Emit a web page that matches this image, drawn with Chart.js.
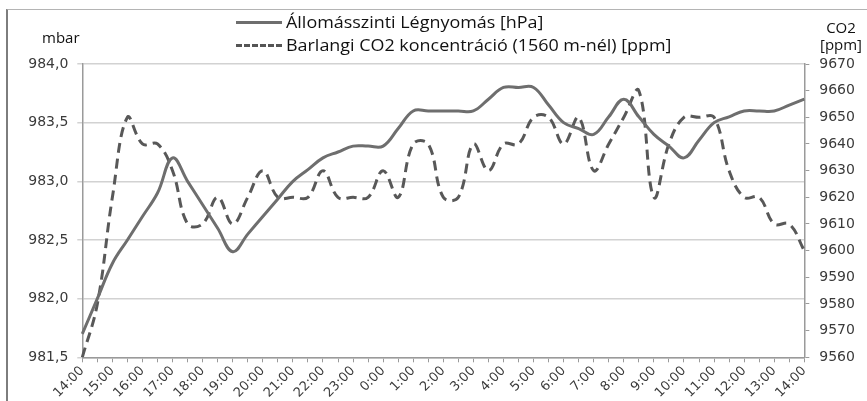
<html><head><title>Légnyomás és CO2</title>
<style>
    body {
        margin: 0;
        background: #fff;
        font-family: "DejaVu Sans", sans-serif;
    }
    .wrap {
        position: relative;
        width: 867px;
        height: 401px;
        overflow: hidden;
    }
    .frame {
        position: absolute;
        left: 6px;
        top: 9px;
        width: 900px;
        height: 450px;
        border-left: 2.5px solid #7d7d7d;
        border-top: 1.5px solid #b4b4b4;
    }
    .label {
        position: absolute;
        color: #111;
        font-family: "Open Sans", sans-serif;
        font-size: 15px;
        line-height: 17px;
        white-space: nowrap;
    }
    .legend-row {
        position: absolute;
        left: 236px;
        height: 20px;
        display: flex;
        align-items: center;
        font-family: "Open Sans", sans-serif;
        font-size: 16px;
        color: #111;
        white-space: nowrap;
    }
    .legend-row span {
        display: inline-block;
        transform: scaleX(1.12);
        transform-origin: left center;
    }
    .sample {
        width: 46px;
        margin-right: 4px;
        border-top: 3px solid #6e6e6e;
    }
    .sample.dashed {
        border-top: 3px dashed #555;
    }
    #chart {
        position: absolute;
        left: 0;
        top: 0;
    }
</style>
<script src="https://cdn.jsdelivr.net/npm/chart.js"></script>
</head>
<body>
<div class="wrap">
    <div class="frame"></div>
    <canvas id="chart" width="867" height="401"></canvas>
    <div class="label" style="left:42px; top:29px;">mbar</div>
    <div class="label" style="left:818px; top:19px; width:46px; text-align:center;">CO2<br>[ppm]</div>
    <div class="legend-row" style="top:12px;"><div class="sample"></div><span>Állomásszinti Légnyomás [hPa]</span></div>
    <div class="legend-row" style="top:35px;"><div class="sample dashed"></div><span>Barlangi CO2 koncentráció (1560 m-nél) [ppm]</span></div>
</div>

<script>
// hourly tick labels, one data point every half hour
const hours = ['14:00', '15:00', '16:00', '17:00', '18:00', '19:00', '20:00', '21:00', '22:00',
    '23:00', '0:00', '1:00', '2:00', '3:00', '4:00', '5:00', '6:00', '7:00', '8:00', '9:00',
    '10:00', '11:00', '12:00', '13:00', '14:00'];

// Állomásszinti légnyomás (mbar / hPa)
const pressure = [
    981.7, 982.0, 982.3, 982.5, 982.7, 982.9, 983.2, 983.0, 982.8, 982.6,
    982.4, 982.55, 982.7, 982.85, 983.0, 983.1, 983.2, 983.25, 983.3, 983.3,
    983.3, 983.45, 983.6, 983.6, 983.6, 983.6, 983.6, 983.7, 983.8, 983.8,
    983.8, 983.65, 983.5, 983.45, 983.4, 983.55, 983.7, 983.55, 983.4, 983.3,
    983.2, 983.35, 983.5, 983.55, 983.6, 983.6, 983.6, 983.65, 983.7
];

// Barlangi CO2 koncentráció (ppm)
const co2 = [
    9560, 9580, 9620, 9650, 9640, 9640, 9630, 9610, 9610, 9620,
    9610, 9620, 9630, 9620, 9620, 9620, 9630, 9620, 9620, 9620,
    9630, 9620, 9640, 9640, 9620, 9620, 9640, 9630, 9640, 9640,
    9650, 9650, 9640, 9650, 9630, 9640, 9650, 9660, 9620, 9640,
    9650, 9650, 9650, 9630, 9620, 9620, 9610, 9610, 9600
];

// half-hour slots get an empty label
const categories = [];
hours.forEach((h, i) => {
    categories.push(h);
    if (i < hours.length - 1) categories.push('');
});

const tickFont = { family: 'DejaVu Sans', size: 14 };
const axisColor = '#9a9a9a';

new Chart(document.getElementById('chart'), {
    type: 'line',
    data: {
        labels: categories,
        datasets: [{
            label: 'Állomásszinti Légnyomás [hPa]',
            data: pressure,
            yAxisID: 'y',
            borderColor: '#6e6e6e',
            borderWidth: 3,
            pointRadius: 0,
            tension: 0.4,
            fill: false
        }, {
            label: 'Barlangi CO2 koncentráció (1560 m-nél) [ppm]',
            data: co2,
            yAxisID: 'y2',
            borderColor: '#585858',
            borderWidth: 3,
            borderDash: [10, 6],
            pointRadius: 0,
            tension: 0.4,
            fill: false
        }]
    },
    options: {
        responsive: false,
        animation: false,
        layout: { padding: { top: 64, left: 0, right: 0, bottom: 0 } },
        plugins: {
            legend: { display: false },
            tooltip: { enabled: false }
        },
        scales: {
            x: {
                grid: { drawOnChartArea: false, color: axisColor, tickLength: 5, lineWidth: 1 },
                border: { color: axisColor, width: 1.5 },
                ticks: {
                    autoSkip: false,
                    maxRotation: 45,
                    minRotation: 45,
                    font: { family: 'DejaVu Sans', size: 13 },
                    color: '#3a3a3a',
                    padding: 1
                },
                afterFit: s => { s.height = 43.7; }
            },
            y: {
                position: 'left',
                min: 981.5,
                max: 984,
                grid: { color: '#d2d2d2', lineWidth: 1.5, tickLength: 5 },
                border: { color: axisColor, width: 1.5 },
                ticks: {
                    stepSize: 0.5,
                    font: tickFont,
                    color: '#3a3a3a',
                    padding: 9,
                    callback: v => v.toFixed(1).replace('.', ',')
                },
                afterFit: s => { s.width = 82.3; }
            },
            y2: {
                position: 'right',
                min: 9560,
                max: 9670,
                grid: { drawOnChartArea: false, color: axisColor, tickLength: 5 },
                border: { color: axisColor, width: 1.5 },
                ticks: {
                    stepSize: 10,
                    font: tickFont,
                    color: '#3a3a3a',
                    padding: 10,
                    callback: v => String(v)
                },
                afterFit: s => { s.width = 62.7; }
            }
        }
    }
});
</script>
</body></html>
